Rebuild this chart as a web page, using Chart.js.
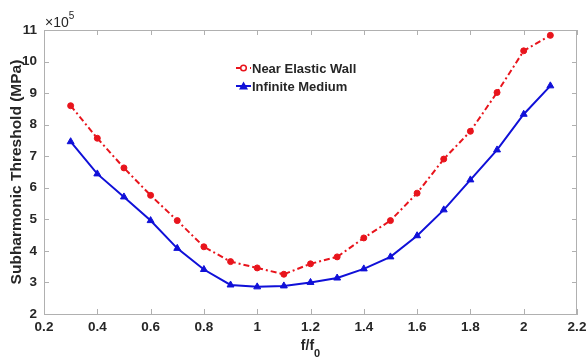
<!DOCTYPE html>
<html>
<head>
<meta charset="utf-8">
<script src="https://cdn.jsdelivr.net/npm/chart.js@4.4.0/dist/chart.umd.min.js"></script>
<style>
  html, body { margin: 0; padding: 0; background: #fff; }
  #wrap { width: 587px; height: 358px; }
</style>
</head>
<body>
<div id="wrap"><canvas id="myChart" width="587" height="358"></canvas></div>
<script>
// f/f0 ratios
var freqRatio = [0.3, 0.4, 0.5, 0.6, 0.7, 0.8, 0.9, 1.0, 1.1, 1.2, 1.3, 1.4, 1.5, 1.6, 1.7, 1.8, 1.9, 2.0, 2.1];
// threshold values, in units of 1e5 MPa
var nearWall = [8.6, 7.57, 6.63, 5.76, 4.96, 4.13, 3.66, 3.46, 3.26, 3.59, 3.81, 4.41, 4.96, 5.83, 6.91, 7.79, 9.02, 10.34, 10.83];
var infinite = [7.46, 6.44, 5.71, 4.96, 4.08, 3.41, 2.92, 2.86, 2.89, 3.0, 3.14, 3.43, 3.81, 4.48, 5.30, 6.25, 7.2, 8.33, 9.23];
var seriesNames = ["Near Elastic Wall", "Infinite Medium"];

var textColor = "#262626";
var frameColor = "#b0b0b0";
var red = "#e8141c";
var blue = "#1010d8";
var fontFamily = '"Liberation Sans", Arial, sans-serif';

function toPoints (xs, ys) {
    return xs.map(function (x, i) { return {x: x, y: ys[i]}; });
}

// frame on top/right plus inward tick marks, exponent label, x title, legend
var extras = {
    id: 'extras',
    afterDraw: function (chart) {
        var ctx = chart.ctx;
        var a = chart.chartArea;
        var xs = chart.scales.x, ys = chart.scales.y;
        ctx.save();
        ctx.strokeStyle = frameColor;
        ctx.lineWidth = 1;
        ctx.beginPath();
        ctx.moveTo(a.left, a.top + 0.5); ctx.lineTo(a.right, a.top + 0.5);
        ctx.moveTo(a.right - 0.5, a.top); ctx.lineTo(a.right - 0.5, a.bottom);
        var len = 5;
        xs.ticks.forEach(function (t) {
            var px = Math.round(xs.getPixelForValue(t.value)) + 0.5;
            ctx.moveTo(px, a.bottom); ctx.lineTo(px, a.bottom - len);
            ctx.moveTo(px, a.top); ctx.lineTo(px, a.top + len);
        });
        ys.ticks.forEach(function (t) {
            var py = Math.round(ys.getPixelForValue(t.value)) + 0.5;
            ctx.moveTo(a.left, py); ctx.lineTo(a.left + len, py);
            ctx.moveTo(a.right, py); ctx.lineTo(a.right - len, py);
        });
        ctx.stroke();

        // x10^5
        ctx.fillStyle = textColor;
        ctx.textBaseline = 'alphabetic';
        ctx.textAlign = 'left';
        ctx.font = '14px ' + fontFamily;
        ctx.fillText('\u00d710', a.left + 1, a.top - 3);
        var w = ctx.measureText('\u00d710').width;
        ctx.font = '10px ' + fontFamily;
        ctx.fillText('5', a.left + 1 + w, a.top - 11);

        // x title f/f0
        var cx = (a.left + a.right) / 2;
        ctx.font = 'bold 14px ' + fontFamily;
        var w1 = ctx.measureText('f/f').width;
        ctx.font = 'bold 11px ' + fontFamily;
        var w2 = ctx.measureText('0').width;
        var x0 = cx - (w1 + w2) / 2;
        ctx.font = 'bold 14px ' + fontFamily;
        ctx.fillText('f/f', x0, 350);
        ctx.font = 'bold 11px ' + fontFamily;
        ctx.fillText('0', x0 + w1, 357);

        // legend
        var lx = 236, ly = [68, 86];
        ctx.font = 'bold 13px ' + fontFamily;
        ctx.textBaseline = 'middle';
        chart.data.datasets.forEach(function (ds, i) {
            var y = ly[i];
            ctx.strokeStyle = ds.borderColor;
            ctx.lineWidth = 2;
            ctx.setLineDash(ds.borderDash || []);
            ctx.beginPath();
            ctx.moveTo(lx, y); ctx.lineTo(lx + 15, y);
            ctx.stroke();
            ctx.setLineDash([]);
            ctx.fillStyle = ds.pointBackgroundColor;
            ctx.beginPath();
            if (ds.pointStyle === 'triangle') {
                ctx.moveTo(lx + 7.5, y - 4.5);
                ctx.lineTo(lx + 12, y + 3.5);
                ctx.lineTo(lx + 3, y + 3.5);
                ctx.closePath();
                ctx.fill();
            } else {
                ctx.arc(lx + 7.5, y, 2.8, 0, Math.PI * 2);
                ctx.fillStyle = '#fff';
                ctx.fill();
                ctx.lineWidth = 1.5;
                ctx.stroke();
            }
            ctx.fillStyle = textColor;
            ctx.fillText(ds.label, lx + 16, y + 1);
        });
        ctx.restore();
    }
};

var tickFont = {family: fontFamily, size: 13.5, weight: 'bold'};

var config = {
    type: 'line',
    data: {
        datasets: [{
            label: seriesNames[0],
            data: toPoints(freqRatio, nearWall),
            borderColor: red,
            backgroundColor: red,
            pointBackgroundColor: red,
            pointBorderColor: red,
            borderWidth: 2,
            borderDash: [6, 3, 2, 3],
            pointStyle: 'circle',
            pointRadius: 3,
            pointBorderWidth: 1,
            tension: 0
        }, {
            label: seriesNames[1],
            data: toPoints(freqRatio, infinite),
            borderColor: blue,
            backgroundColor: blue,
            pointBackgroundColor: blue,
            pointBorderColor: blue,
            borderWidth: 2,
            pointStyle: 'triangle',
            pointRadius: 4,
            pointBorderWidth: 1,
            tension: 0
        }]
    },
    options: {
        responsive: false,
        animation: false,
        layout: {padding: {top: 30, right: 0, left: 0, bottom: 0}},
        plugins: {legend: {display: false}, tooltip: {enabled: false}},
        scales: {
            x: {
                type: 'linear',
                min: 0.2, max: 2.2,
                grid: {display: false, drawTicks: false},
                border: {display: true, color: frameColor, width: 1},
                ticks: {
                    stepSize: 0.2,
                    color: textColor,
                    font: tickFont,
                    padding: 5,
                    maxRotation: 0,
                    callback: function (v) { return String(Number(v.toFixed(1))); }
                },
                afterFit: function (s) { s.height = 44; s.paddingRight = 10; }
            },
            y: {
                min: 2, max: 11,
                grid: {display: false, drawTicks: false},
                border: {display: true, color: frameColor, width: 1},
                ticks: {
                    stepSize: 1,
                    color: textColor,
                    font: tickFont,
                    padding: 7
                },
                title: {
                    display: true,
                    text: 'Subharmonic Threshold (MPa)',
                    color: textColor,
                    font: {family: fontFamily, size: 15.5, weight: 'bold'},
                    padding: {top: 7, bottom: 0}
                },
                afterFit: function (s) { s.width = 44; }
            }
        }
    },
    plugins: [extras]
};

var ctx1 = document.getElementById('myChart').getContext('2d');
window.myChart = new Chart(ctx1, config);
</script>
</body>
</html>
